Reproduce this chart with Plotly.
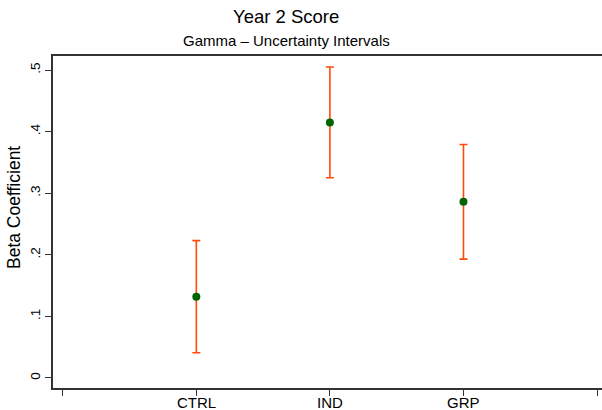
import plotly.graph_objects as go

# Estimates with uncertainty intervals for each group
groups = ["CTRL", "IND", "GRP"]
group_pos = [1, 2, 3]
beta = [0.132, 0.415, 0.286]
ci_low = [0.041, 0.325, 0.193]
ci_high = [0.223, 0.505, 0.379]

y_ticks = [0, 0.1, 0.2, 0.3, 0.4, 0.5]
y_tick_text = ["0", ".1", ".2", ".3", ".4", ".5"]

err_plus = [h - b for h, b in zip(ci_high, beta)]
err_minus = [b - l for b, l in zip(beta, ci_low)]

FONT = "Liberation Sans, Arial, sans-serif"
AXIS_COLOR = "#333333"
W, H = 602, 410
ML, MR, MT, MB = 53, 0, 56, 22

fig = go.Figure()
fig.add_trace(go.Scatter(
    x=group_pos, y=beta, mode="markers",
    marker=dict(color="#006400", size=8, line=dict(width=0)),
    error_y=dict(type="data", symmetric=False, array=err_plus, arrayminus=err_minus,
                 color="#FF4A0A", thickness=1.6, width=4),
    showlegend=False,
))

ph = H - MT - MB
pw = W - ML - MR


def px_to_paper_y(py):
    return (H - MB - py) / ph


def px_to_paper_x(px):
    return (px - ML) / pw


annotations = [
    dict(text="Year 2 Score", x=px_to_paper_x(286), y=px_to_paper_y(16.5),
         font=dict(size=18.5, family=FONT)),
    dict(text="Gamma \u2013 Uncertainty Intervals", x=px_to_paper_x(286), y=px_to_paper_y(40),
         font=dict(size=15, family=FONT)),
    dict(text="Beta Coefficient", x=px_to_paper_x(14), y=px_to_paper_y(208),
         textangle=-90, font=dict(size=17.5, family=FONT)),
]
# Category labels under the x axis, set close to the axis
for pos, name in zip(group_pos, groups):
    annotations.append(dict(text=name, x=pos, xref="x", y=px_to_paper_y(402.5),
                            font=dict(size=15, family=FONT)))

for a in annotations:
    a.setdefault("xref", "paper")
    a.update(yref="paper", showarrow=False, xanchor="center", yanchor="middle")

fig.update_layout(
    width=W, height=H,
    margin=dict(l=ML, r=MR, t=MT, b=MB),
    paper_bgcolor="white", plot_bgcolor="white",
    font=dict(family=FONT, color="black"),
    xaxis=dict(
        range=[-0.073, 4.037], automargin=False,
        tickvals=[0, 1, 2, 3, 4], showticklabels=False,
        ticks="outside", ticklen=6, tickwidth=1.2, tickcolor=AXIS_COLOR,
        showline=True, linecolor=AXIS_COLOR, linewidth=1.5, mirror=True,
        showgrid=False, zeroline=False,
    ),
    yaxis=dict(
        range=[-0.0163, 0.5228], automargin=False,
        tickvals=y_ticks, ticktext=y_tick_text, tickangle=-90,
        ticks="outside", ticklen=6, tickwidth=1.2, tickcolor=AXIS_COLOR,
        showline=True, linecolor=AXIS_COLOR, linewidth=1.5,
        showgrid=False, zeroline=False,
        tickfont=dict(size=13.5, family=FONT),
    ),
    annotations=annotations,
)

fig.write_html("out.html")
